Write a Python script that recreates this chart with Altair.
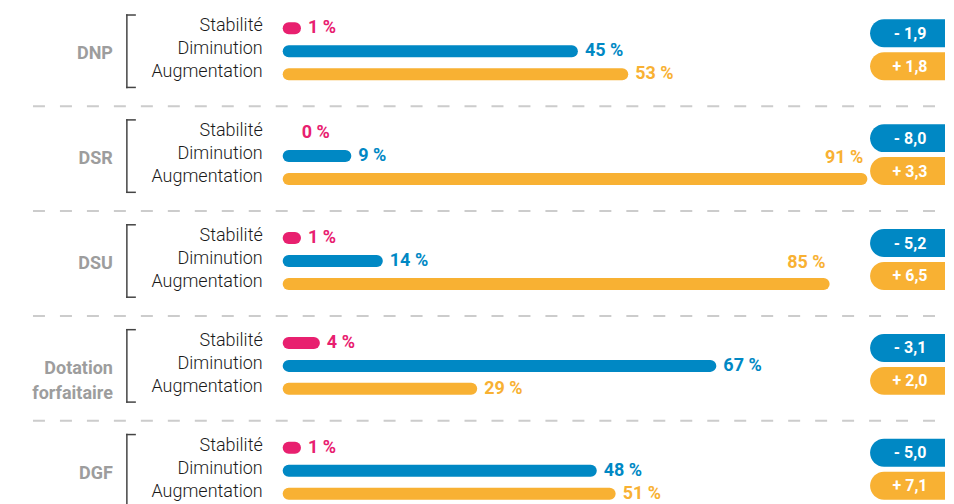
import altair as alt
import pandas as pd

groups = ["DNP", "DSR", "DSU", "Dotation forfaitaire", "DGF"]
rows = ["Stabilité", "Diminution", "Augmentation"]
stabilite = [1, 0, 1, 4, 1]
diminution = [45, 9, 14, 67, 48]
augmentation = [53, 91, 85, 29, 51]
baisse = ["- 1,9", "- 8,0", "- 5,2", "- 3,1", "- 5,0"]
hausse = ["+ 1,8", "+ 3,3", "+ 6,5", "+ 2,0", "+ 7,1"]

PINK, BLUE, YELLOW = "#E8206F", "#0088C4", "#F8B133"

records = []
for i, g in enumerate(groups):
    for r, vals in zip(rows, [stabilite, diminution, augmentation]):
        records.append({"group": g, "row": r, "value": vals[i],
                        "label": f"{vals[i]} %", "baisse": baisse[i], "hausse": hausse[i]})
df = pd.DataFrame(records)

NUMFONT = "Roboto"
LABFONT = "Roboto"

Y = alt.Y("row:N", sort=rows, scale=alt.Scale(type="point", padding=0.61), axis=None)
X = alt.X("value:Q", scale=alt.Scale(domain=[0, 100]), axis=None)
C = alt.Color("row:N", scale=alt.Scale(domain=rows, range=[PINK, BLUE, YELLOW]), legend=None)

base = alt.Chart()

rowlab = base.mark_text(align="right", baseline="middle", font=LABFONT, fontWeight=300,
                        fontSize=18, color="#1a1a1a", dy=-2).encode(
    x=alt.value(-26), y=Y, text="row:N")

bars = base.transform_filter("datum.value > 0").mark_rule(strokeWidth=12, strokeCap="round").encode(
    x=X, x2=alt.value(0), y=Y, color=C)

lab_right = base.transform_filter("datum.value <= 80").mark_text(
    align="left", baseline="middle", dx=13, font=NUMFONT, fontWeight="bold", fontSize=18).encode(
    x=X, y=Y, text="label:N", color=C)

lab_above = base.transform_filter("datum.value > 80").mark_text(
    align="right", baseline="middle", dx=2, dy=-21, font=NUMFONT, fontWeight="bold", fontSize=18).encode(
    x=X, y=Y, text="label:N", color=C)

mid = base.transform_filter("datum.row === 'Diminution'")

glabel = mid.transform_calculate(glabel="split(datum.group, ' ')").mark_text(
    align="right", baseline="middle", font=NUMFONT, fontWeight="bold", fontSize=18,
    color="#9d9d9d", lineHeight=25, dy=3).encode(
    x=alt.value(-176), y=Y, text="glabel:N")

br_v = mid.mark_rule(color="#444444", strokeWidth=1.5).encode(
    x=alt.value(-162), y=alt.value(0), y2=alt.value(74))
br_t = mid.mark_rule(color="#444444", strokeWidth=1.5).encode(
    x=alt.value(-162.75), x2=alt.value(-153), y=alt.value(0.75))
br_b = mid.mark_rule(color="#444444", strokeWidth=1.5).encode(
    x=alt.value(-162.75), x2=alt.value(-153), y=alt.value(73.25))

sep = mid.transform_filter("datum.group !== 'DGF'").mark_rule(
    color="#cccccc", strokeWidth=2, strokeDash=[12, 15]).encode(
    x=alt.value(-256), x2=alt.value(657), y=alt.value(92))

badge_b = mid.mark_bar(color=BLUE, cornerRadiusTopLeft=14, cornerRadiusBottomLeft=14).encode(
    x=alt.value(582), x2=alt.value(657), y=alt.value(5), y2=alt.value(33))
badge_h = mid.mark_bar(color=YELLOW, cornerRadiusTopLeft=14, cornerRadiusBottomLeft=14).encode(
    x=alt.value(582), x2=alt.value(657), y=alt.value(38), y2=alt.value(66))
txt_b = mid.mark_text(color="white", font=NUMFONT, fontWeight="bold", fontSize=16,
                      align="center", baseline="middle").encode(
    x=alt.value(622), y=alt.value(19.5), text="baisse:N")
txt_h = mid.mark_text(color="white", font=NUMFONT, fontWeight="bold", fontSize=16,
                      align="center", baseline="middle").encode(
    x=alt.value(622), y=alt.value(52.5), text="hausse:N")

layered = alt.layer(sep, br_v, br_t, br_b, glabel, rowlab, bars, lab_right, lab_above,
                    badge_b, badge_h, txt_b, txt_h, data=df).properties(width=630, height=74)

chart = layered.facet(
    row=alt.Row("group:N", sort=groups, title=None, header=alt.Header(labels=False, title=None)),
    spacing=31,
    bounds="flush",
).properties(
    padding={"left": 24, "top": 5, "right": 0, "bottom": 0}
).configure_view(stroke=None)

chart.save("out.html", embed_options={"renderer": "svg", "actions": False})
